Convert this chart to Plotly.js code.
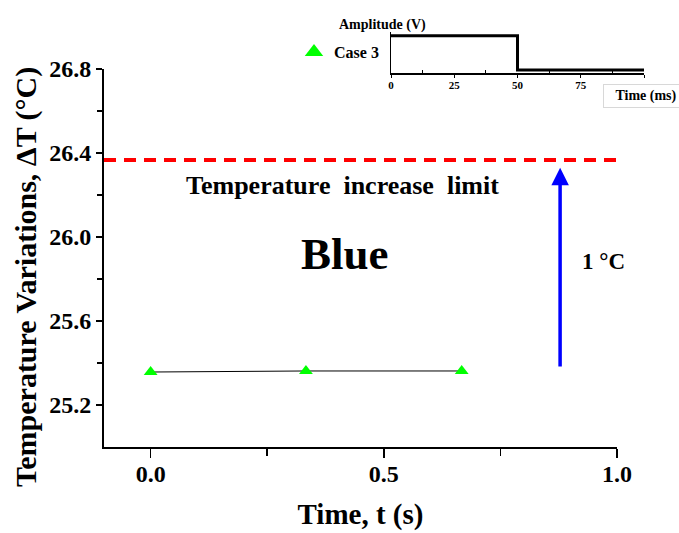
<!DOCTYPE html>
<html>
<head>
<meta charset="utf-8">
<script src="https://cdn.plot.ly/plotly-3.0.1.min.js"></script>
<style>html,body{margin:0;padding:0;background:#fff;}#chart{width:679px;height:533px;}</style>
</head>
<body>
<div id="chart"></div>
<script>
// Main data (Case 3)
var timeS = [0, 0.333, 0.667];
var deltaT = [25.357, 25.362, 25.362];
var limitT = 26.367;
var arrowBase = 25.376;
var arrowTop = 26.33;
var arrowX = 0.878;
// Inset pulse
var pulseTime = [0, 50, 100];
var pulseAmp = [1, 0.08, 0.08];
var insetTicks = [0, 25, 50, 75, 100];
var insetTickText = ['0', '25', '50', '75', ''];

var W = 679, H = 533;
var FONT = 'Liberation Serif, Times New Roman, serif';

var traces = [
  {x: timeS, y: deltaT, type: 'scatter', mode: 'lines+markers', showlegend: false,
   line: {color: '#000', width: 1},
   marker: {symbol: 'triangle-up', size: 12, color: 'rgb(0,255,0)'},
   xaxis: 'x', yaxis: 'y'},
  {x: [null], y: [null], type: 'scatter', mode: 'markers', name: 'Case 3',
   marker: {symbol: 'triangle-up', size: 16, color: 'rgb(0,255,0)'},
   xaxis: 'x', yaxis: 'y'},
  {x: pulseTime, y: pulseAmp, type: 'scatter', mode: 'lines', showlegend: false,
   line: {color: '#000', width: 3, shape: 'hv'},
   xaxis: 'x2', yaxis: 'y2'}
];

var layout = {
  width: W, height: H,
  margin: {l: 0, r: 0, t: 0, b: 0},
  paper_bgcolor: '#fff', plot_bgcolor: 'rgba(0,0,0,0)',
  font: {family: FONT, color: '#000'},
  showlegend: true,
  legend: {x: 294 / W, y: 1 - 52 / H, xanchor: 'left', yanchor: 'middle',
           bgcolor: 'rgba(0,0,0,0)', font: {family: FONT, size: 16, weight: 'bold'},
           itemwidth: 30},
  xaxis: {domain: [104 / W, 617 / W], range: [-0.1, 1.0], anchor: 'y',
          showgrid: false, zeroline: false, showline: true, linecolor: '#000', linewidth: 2,
          ticks: 'outside', ticklen: 9, tickwidth: 1.5, tickcolor: '#000',
          tickvals: [0, 0.5, 1.0], tickformat: '.1f', ticklabelstandoff: -5,
          minor: {tickvals: [0.25, 0.75], ticks: 'outside', ticklen: 7, tickwidth: 1.5, tickcolor: '#000'},
          tickfont: {family: FONT, size: 24, weight: 'bold'},
          title: {text: 'Time, t (s)', font: {family: FONT, size: 29, weight: 'bold'}, standoff: 18}},
  yaxis: {domain: [86 / H, 464 / H], range: [25.0, 26.8], anchor: 'x',
          showgrid: false, zeroline: false, showline: true, linecolor: '#000', linewidth: 2,
          ticks: 'outside', ticklen: 6, tickwidth: 1.5, tickcolor: '#000',
          tickvals: [25.2, 25.6, 26.0, 26.4, 26.8], tickformat: '.1f',
          minor: {tickvals: [25.4, 25.8, 26.2, 26.6], ticks: 'outside', ticklen: 5, tickwidth: 1.5, tickcolor: '#000'},
          tickfont: {family: FONT, size: 24, weight: 'bold'}},
  xaxis2: {domain: [391 / W, 644 / W], range: [0, 100], anchor: 'y2',
           showgrid: false, zeroline: false, showline: true, linecolor: '#000', linewidth: 1.5,
           ticks: 'outside', ticklen: 3, tickcolor: '#000', tickwidth: 1, ticklabelstandoff: -2,
           tickvals: insetTicks, ticktext: insetTickText,
           minor: {tickvals: [12.5, 37.5, 62.5, 87.5], ticks: 'inside', ticklen: 3, tickcolor: '#000'},
           tickfont: {family: FONT, size: 11, weight: 'bold'}},
  yaxis2: {domain: [(H - 73) / H, (H - 32) / H], range: [0, 1.1], anchor: 'x2',
           showgrid: false, zeroline: false, showline: true, linecolor: '#000', linewidth: 1.5,
           showticklabels: false, ticks: ''},
  shapes: [
    {type: 'line', xref: 'paper', yref: 'y', x0: 104 / W, x1: 621 / W, y0: limitT, y1: limitT,
     line: {color: '#ff0000', width: 4, dash: '12px,8px'}}
  ],
  annotations: [
    {x: 26 / W, y: 1 - 277 / H, xref: 'paper', yref: 'paper', xanchor: 'center', yanchor: 'middle',
     textangle: -90, showarrow: false,
     text: 'Temperature Variations, \u0394T (\u00B0C)', font: {family: FONT, size: 30, weight: 'bold'}},
    {x: arrowX, y: arrowTop, ax: arrowX, ay: arrowBase, xref: 'x', yref: 'y', axref: 'x', ayref: 'y',
     showarrow: true, arrowhead: 2, arrowsize: 1, arrowwidth: 3.5, arrowcolor: '#0000ff', text: ''},
    {x: 0.412, y: 26.243, xref: 'x', yref: 'y', text: 'Temperature  increase  limit', showarrow: false,
     font: {family: FONT, size: 26, weight: 'bold'}},
    {x: 0.416, y: 25.919, xref: 'x', yref: 'y', text: 'Blue', showarrow: false,
     font: {family: FONT, size: 45, weight: 'bold'}},
    {x: 0.970, y: 25.881, xref: 'x', yref: 'y', text: '1 \u00B0C', showarrow: false,
     font: {family: FONT, size: 23, weight: 'bold'}},
    {x: 382 / W, y: 1 - 15 / H, xref: 'paper', yref: 'paper', text: 'Amplitude (V)', showarrow: false,
     font: {family: FONT, size: 14, weight: 'bold'}},
    {x: 603 / W, y: 1 - 96 / H, xref: 'paper', yref: 'paper', xanchor: 'left', yanchor: 'middle',
     text: 'Time (ms)', showarrow: false, align: 'center',
     bgcolor: '#fff', bordercolor: '#d8d8d8', borderwidth: 1, borderpad: 3, width: 78, height: 16,
     font: {family: FONT, size: 14, weight: 'bold'}}
  ]
};

Plotly.newPlot('chart', traces, layout, {displayModeBar: false, staticPlot: true});
</script>
</body>
</html>
